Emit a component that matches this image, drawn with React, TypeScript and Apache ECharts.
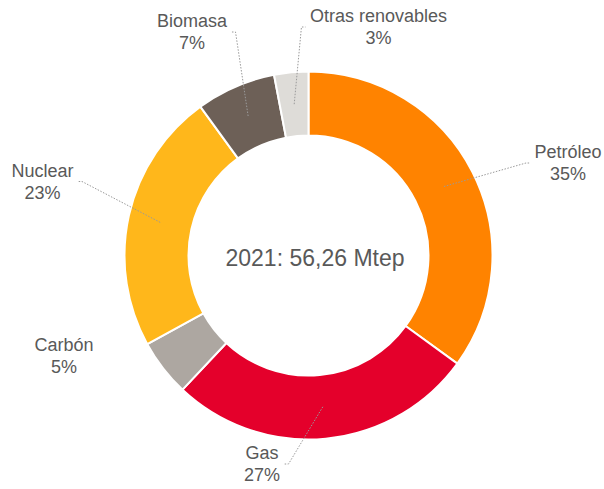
import React, { useEffect, useRef } from "react";
import * as echarts from "echarts";

const categories = ["Petróleo", "Gas", "Carbón", "Nuclear", "Biomasa", "Otras renovables"];
const shares = [35, 27, 5, 23, 7, 3];
const centerLabel = "2021: 56,26 Mtep";

const sliceColors = ["#FF8300", "#E4002B", "#ADA7A1", "#FFB71B", "#6D6057", "#DEDCD8"];
const showLeader = [true, true, false, true, true, true];
// label block centres (layout only)
const labelAnchors: [number, number][] = [
  [568, 163],
  [262, 464],
  [64, 355.5],
  [42.5, 181.5],
  [192, 32],
  [378.5, 27],
];

const CENTER: [number, number] = [308.5, 255.5];
const FONT = "'Liberation Sans', Arial, sans-serif";
const TEXT_COLOR = "#595959";

export default function App() {
  const ref = useRef<HTMLDivElement>(null);
  useEffect(() => {
    if (!ref.current) return;
    const chart = echarts.init(ref.current, null, { renderer: "svg" });
    const ringData = categories.map((name, i) => ({
      name,
      value: shares[i],
      itemStyle: { color: sliceColors[i] },
    }));
    const labelData = categories.map((name, i) => ({
      name,
      value: shares[i],
      labelLine: { show: showLeader[i] },
    }));
    chart.setOption({
      animation: false,
      backgroundColor: "#ffffff",
      graphic: [
        {
          type: "text",
          x: 315,
          y: 258,
          style: {
            text: centerLabel,
            align: "center",
            verticalAlign: "middle",
            fontFamily: FONT,
            fontSize: 23,
            fill: TEXT_COLOR,
          },
        },
      ],
      series: [
        {
          type: "pie",
          center: CENTER,
          radius: [120, 184],
          startAngle: 90,
          clockwise: true,
          silent: true,
          z: 1,
          label: { show: false },
          labelLine: { show: false },
          emphasis: { disabled: true },
          itemStyle: { borderColor: "#ffffff", borderWidth: 2 },
          data: ringData,
        },
        {
          type: "pie",
          center: CENTER,
          radius: [0, 152],
          startAngle: 90,
          clockwise: true,
          silent: true,
          z: 3,
          emphasis: { disabled: true },
          itemStyle: { color: "rgba(0,0,0,0)", borderWidth: 0 },
          label: {
            show: true,
            position: "outside",
            formatter: "{b}\n{c}%",
            fontFamily: FONT,
            fontSize: 18,
            lineHeight: 22,
            color: TEXT_COLOR,
            overflow: "none",
          },
          labelLine: {
            show: true,
            length: 15,
            length2: 15,
            lineStyle: { color: "#9a9a9a", width: 1, type: [1.5, 1.5] },
          },
          labelLayout: (p: any) => {
            const [lx, ly] = labelAnchors[p.dataIndex];
            const w = p.labelRect.width;
            const res: any = { x: lx, y: ly, align: "center", verticalAlign: "middle" };
            const pts = p.labelLinePoints;
            if (pts && pts.length) {
              const start = pts[0];
              const side = lx > start[0] ? 1 : -1;
              const edgeX = lx - side * (w / 2 + 4.5);
              res.labelLinePoints = [
                [start[0], start[1]],
                [edgeX - side * 4, ly],
                [edgeX, ly],
              ];
            }
            return res;
          },
          data: labelData,
        },
      ],
    });
    return () => chart.dispose();
  }, []);
  return (
    <div
      ref={ref}
      style={{ position: "fixed", left: 0, top: 0, width: 604, height: 489 }}
    />
  );
}
